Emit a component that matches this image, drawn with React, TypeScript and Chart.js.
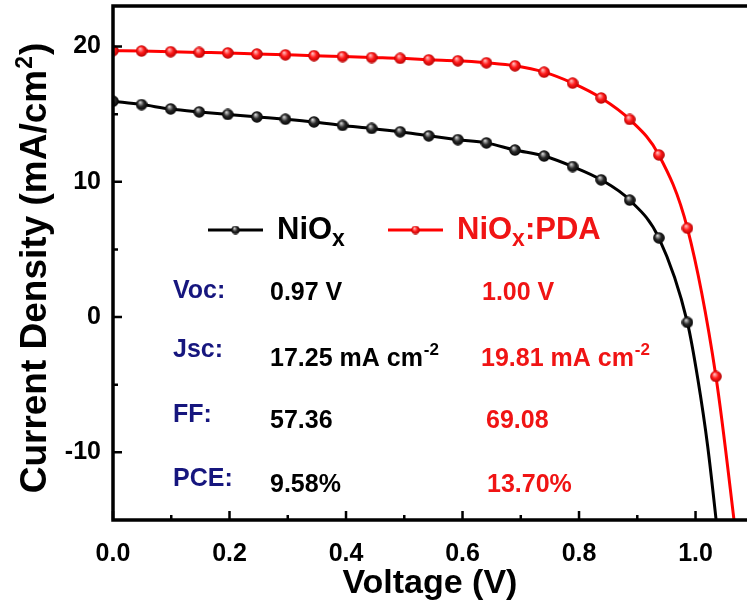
import React, { useEffect, useRef } from 'react';
import { Chart, registerables } from 'chart.js';

Chart.register(...registerables);

// ---- data ----
const voltageNiOx = [0, 0.049, 0.099, 0.148, 0.197, 0.247, 0.296, 0.345, 0.394, 0.444, 0.493, 0.542, 0.592, 0.641, 0.690, 0.740, 0.789, 0.838, 0.887, 0.937, 0.986, 1.004, 1.021, 1.040];
const currentNiOx = [15.96, 15.71, 15.39, 15.17, 14.98, 14.80, 14.63, 14.43, 14.17, 13.95, 13.70, 13.40, 13.12, 12.88, 12.35, 11.91, 11.13, 10.15, 8.65, 5.86, -0.39, -4.6, -9.6, -16.8];
const markersNiOx = 21;

const voltagePDA = [0, 0.049, 0.099, 0.148, 0.197, 0.247, 0.296, 0.345, 0.394, 0.444, 0.493, 0.542, 0.592, 0.641, 0.690, 0.740, 0.789, 0.838, 0.887, 0.937, 0.986, 1.035, 1.072];
const currentPDA = [19.70, 19.67, 19.62, 19.57, 19.53, 19.45, 19.39, 19.33, 19.26, 19.19, 19.13, 19.02, 18.95, 18.80, 18.58, 18.11, 17.30, 16.20, 14.61, 11.99, 6.57, -4.39, -17.1];
const markersPDA = 22;

const xMajorTicks = [0, 0.2, 0.4, 0.6, 0.8, 1.0];
const xMinorTicks = [0.1, 0.3, 0.5, 0.7, 0.9];
const yMajorTicks = [-10, 0, 10, 20];
const yMinorTicks = [-5, 5, 15];

const seriesNames = ['NiO', 'NiO'];
const seriesSubscripts = ['x', 'x'];
const seriesSuffix = ['', ':PDA'];

const metricLabels = ['Voc:', 'Jsc:', 'FF:', 'PCE:'];
const metricNiOx = ['0.97 V', '17.25 mA cm', '57.36', '9.58%'];
const metricPDA = ['1.00 V', '19.81 mA cm', '69.08', '13.70%'];
const metricSup = ['', '-2', '', ''];

const xTitle = 'Voltage (V)';
const yTitleMain = 'Current Density (mA/cm';
const yTitleSup = '2';
const yTitleEnd = ')';

const FONT = "'Liberation Sans', Arial, Helvetica, sans-serif";
const RED = '#ff0000';
const RED_TEXT = '#f01414';
const NAVY = '#16167e';

function makeSphere(d: number, light: string, base: string, dark: string) {
  const c = document.createElement('canvas');
  c.width = d;
  c.height = d;
  const g = c.getContext('2d')!;
  const r = d / 2;
  const grad = g.createRadialGradient(r * 0.75, r * 0.6, r * 0.05, r, r, r);
  grad.addColorStop(0, light);
  grad.addColorStop(0.5, base);
  grad.addColorStop(1, dark);
  g.fillStyle = grad;
  g.beginPath();
  g.arc(r, r, r - 0.2, 0, Math.PI * 2);
  g.fill();
  return c;
}

export default function App() {
  const ref = useRef<HTMLCanvasElement | null>(null);

  useEffect(() => {
    const canvas = ref.current;
    if (!canvas) return;
    const sphereBlack = makeSphere(12, '#d8d8d8', '#2a2a2a', '#000000');
    const sphereRed = makeSphere(12, '#ffc0c0', '#ff1a1a', '#b00000');
    const legendBlack = makeSphere(9, '#d8d8d8', '#2a2a2a', '#000000');
    const legendRed = makeSphere(9, '#ffc0c0', '#ff1a1a', '#b00000');

    const overlay = {
      id: 'overlay',
      afterDraw(chart: any) {
        const ctx = chart.ctx as CanvasRenderingContext2D;
        const { left, top, bottom } = chart.chartArea;
        const W = chart.width;
        const xs = chart.scales.x;
        const ys = chart.scales.y;
        ctx.save();
        // ticks (inward)
        ctx.strokeStyle = '#000';
        ctx.lineWidth = 2.5;
        ctx.beginPath();
        xMajorTicks.forEach((v) => {
          const p = xs.getPixelForValue(v);
          ctx.moveTo(p, bottom);
          ctx.lineTo(p, bottom - 9);
        });
        xMinorTicks.forEach((v) => {
          const p = xs.getPixelForValue(v);
          ctx.moveTo(p, bottom);
          ctx.lineTo(p, bottom - 5);
        });
        yMajorTicks.forEach((v) => {
          const p = ys.getPixelForValue(v);
          ctx.moveTo(left, p);
          ctx.lineTo(left + 9, p);
        });
        yMinorTicks.forEach((v) => {
          const p = ys.getPixelForValue(v);
          ctx.moveTo(left, p);
          ctx.lineTo(left + 5, p);
        });
        ctx.stroke();
        // frame
        ctx.lineWidth = 3.5;
        ctx.beginPath();
        ctx.moveTo(W, top);
        ctx.lineTo(left, top);
        ctx.lineTo(left, bottom);
        ctx.lineTo(W, bottom);
        ctx.stroke();

        // legend
        const legendY = 230;
        const legendItems = [
          { x0: 208, x1: 263, color: '#000', sphere: legendBlack, textX: 277, textColor: '#000' },
          { x0: 388, x1: 443, color: RED, sphere: legendRed, textX: 457, textColor: RED_TEXT },
        ];
        legendItems.forEach((it, i) => {
          ctx.strokeStyle = it.color;
          ctx.lineWidth = 3;
          ctx.beginPath();
          ctx.moveTo(it.x0, legendY);
          ctx.lineTo(it.x1, legendY);
          ctx.stroke();
          const cx = (it.x0 + it.x1) / 2;
          ctx.drawImage(it.sphere, cx - it.sphere.width / 2, legendY - it.sphere.height / 2);
          ctx.fillStyle = it.textColor;
          ctx.textBaseline = 'alphabetic';
          ctx.textAlign = 'left';
          ctx.font = `bold 31px ${FONT}`;
          let x = it.textX;
          ctx.fillText(seriesNames[i], x, 239);
          x += ctx.measureText(seriesNames[i]).width;
          ctx.font = `bold 23px ${FONT}`;
          ctx.fillText(seriesSubscripts[i], x, 246);
          x += ctx.measureText(seriesSubscripts[i]).width;
          if (seriesSuffix[i]) {
            ctx.font = `bold 31px ${FONT}`;
            ctx.fillText(seriesSuffix[i], x, 239);
          }
        });

        // metrics table
        const labelBase = [298, 357, 422, 486];
        const valueBase = [300, 366, 428, 492];
        const redX = [482, 481, 486, 487];
        metricLabels.forEach((lab, i) => {
          ctx.font = `bold 25px ${FONT}`;
          ctx.fillStyle = NAVY;
          ctx.fillText(lab, 173, labelBase[i]);
          const drawVal = (txt: string, x: number, color: string) => {
            ctx.font = `bold 25px ${FONT}`;
            ctx.fillStyle = color;
            ctx.fillText(txt, x, valueBase[i]);
            if (metricSup[i]) {
              const w = ctx.measureText(txt).width;
              ctx.font = `bold 17px ${FONT}`;
              ctx.fillText(metricSup[i], x + w + 1, valueBase[i] - 11);
            }
          };
          drawVal(metricNiOx[i], 270, '#000');
          drawVal(metricPDA[i], redX[i], RED_TEXT);
        });

        // y axis title (rotated)
        ctx.fillStyle = '#000';
        ctx.translate(46, 268);
        ctx.rotate(-Math.PI / 2);
        ctx.font = `bold 37px ${FONT}`;
        const w1 = ctx.measureText(yTitleMain).width;
        ctx.font = `bold 23px ${FONT}`;
        const w2 = ctx.measureText(yTitleSup).width;
        ctx.font = `bold 37px ${FONT}`;
        const w3 = ctx.measureText(yTitleEnd).width;
        let tx = -(w1 + w2 + w3 + 2) / 2;
        ctx.fillText(yTitleMain, tx, 0);
        tx += w1 + 1;
        ctx.font = `bold 23px ${FONT}`;
        ctx.fillText(yTitleSup, tx, -14);
        tx += w2 + 1;
        ctx.font = `bold 37px ${FONT}`;
        ctx.fillText(yTitleEnd, tx, 0);
        ctx.restore();
      },
    };

    const clip = { left: 0, top: false, right: false, bottom: 0 } as any;

    const chart = new Chart(canvas, {
      type: 'line',
      data: {
        datasets: [
          {
            label: 'NiOx',
            data: voltageNiOx.map((x, i) => ({ x, y: currentNiOx[i] })),
            borderColor: '#000',
            backgroundColor: '#000',
            borderWidth: 3,
            cubicInterpolationMode: 'monotone',
            pointStyle: sphereBlack as any,
            pointRadius: voltageNiOx.map((_, i) => (i < markersNiOx ? 0.2 : 0)),
            pointBorderWidth: 0,
            pointHoverRadius: 0,
            clip,
          },
          {
            label: 'NiOx:PDA',
            data: voltagePDA.map((x, i) => ({ x, y: currentPDA[i] })),
            borderColor: RED,
            backgroundColor: RED,
            borderWidth: 3,
            cubicInterpolationMode: 'monotone',
            pointStyle: sphereRed as any,
            pointRadius: voltagePDA.map((_, i) => (i < markersPDA ? 0.2 : 0)),
            pointBorderWidth: 0,
            pointHoverRadius: 0,
            clip,
          },
        ],
      },
      options: {
        animation: false,
        responsive: false,
        events: [],
        layout: { padding: { top: 6, left: 0, right: 0, bottom: 0 } },
        plugins: { legend: { display: false }, tooltip: { enabled: false } },
        scales: {
          x: {
            type: 'linear',
            min: 0,
            max: 1.088,
            afterBuildTicks: (s: any) => {
              s.ticks = xMajorTicks.map((v) => ({ value: v }));
            },
            afterFit: (s: any) => {
              s.height = 90;
              s.paddingLeft = 0;
              s.paddingRight = 0;
            },
            grid: { display: false, drawTicks: false },
            border: { display: false },
            ticks: {
              padding: 19,
              color: '#000',
              font: { family: FONT, size: 25, weight: 'bold' },
              callback: (v: any) => Number(v).toFixed(1),
            },
            title: {
              display: true,
              text: xTitle,
              color: '#000',
              font: { family: FONT, size: 34, weight: 'bold' },
              padding: { top: 0, bottom: 6 },
            },
          },
          y: {
            type: 'linear',
            min: -15,
            max: 23,
            afterBuildTicks: (s: any) => {
              s.ticks = yMajorTicks.map((v) => ({ value: v }));
            },
            afterFit: (s: any) => {
              s.width = 113;
              s.paddingTop = 0;
              s.paddingBottom = 0;
            },
            grid: { display: false, drawTicks: false },
            border: { display: false },
            ticks: {
              padding: 12,
              color: '#000',
              font: { family: FONT, size: 25, weight: 'bold' },
              callback: (v: any) => String(v),
            },
          },
        },
      } as any,
      plugins: [overlay],
    });

    return () => chart.destroy();
  }, []);

  return (
    <div style={{ position: 'absolute', left: 0, top: 0, width: 747, height: 610, background: '#fff' }}>
      <canvas ref={ref} width={747} height={610} style={{ display: 'block' }} />
    </div>
  );
}
